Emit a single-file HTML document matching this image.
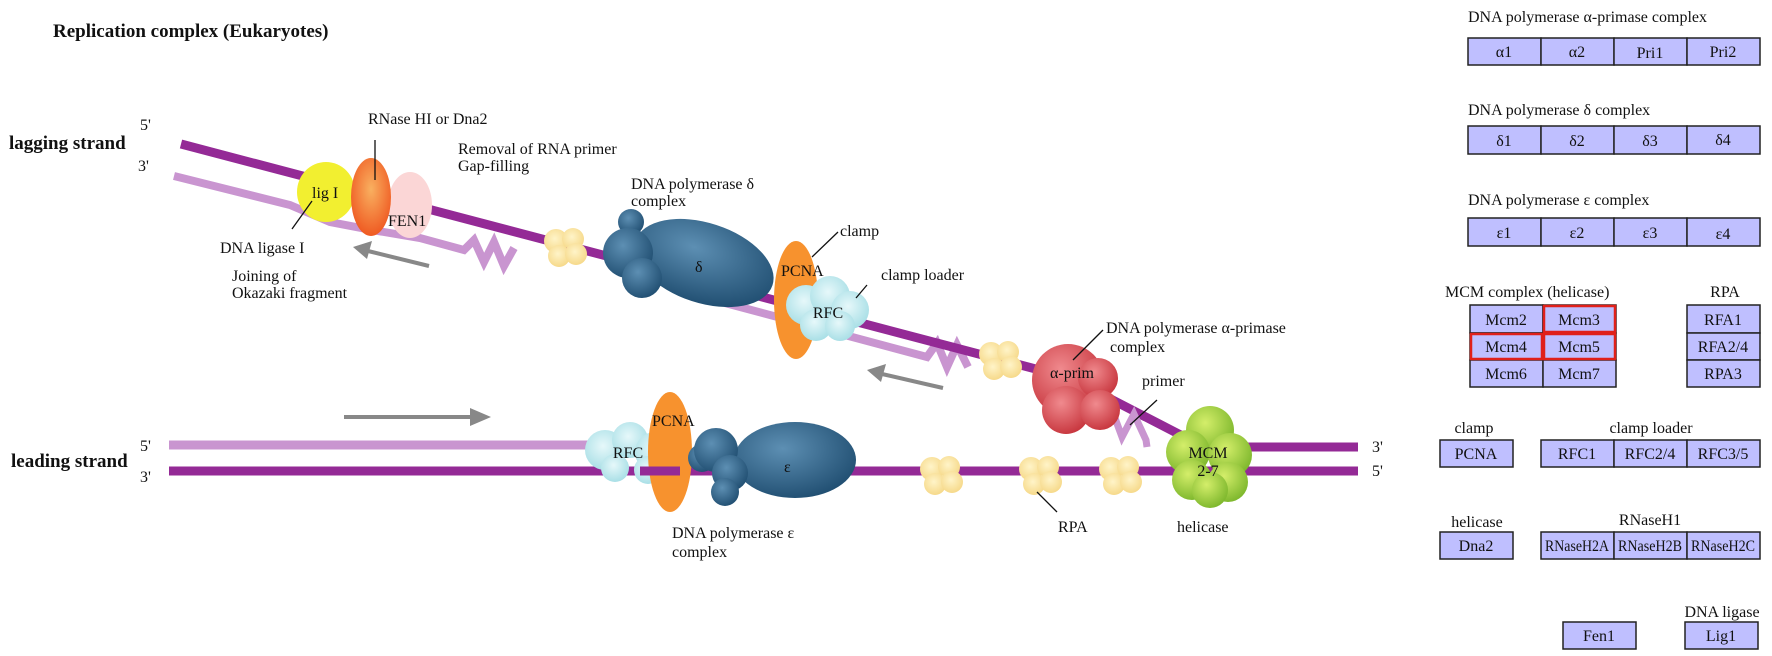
<!DOCTYPE html>
<html><head><meta charset="utf-8"><style>
html,body{margin:0;padding:0;background:#fff;}
svg{display:block;}
text{font-family:"Liberation Serif",serif;font-size:16px;fill:#111;}
.b{font-weight:bold;font-size:19px;}
.bx{fill:#bfbfff;stroke:#222;stroke-width:1.5;}
.c{text-anchor:middle;}
</style></head><body>
<svg width="1772" height="656" viewBox="0 0 1772 656" xmlns="http://www.w3.org/2000/svg">
<defs>
<radialGradient id="blue" cx="40%" cy="35%" r="70%"><stop offset="0" stop-color="#5d8fb3"/><stop offset="1" stop-color="#1f4d70"/></radialGradient>
<radialGradient id="red" cx="40%" cy="35%" r="70%"><stop offset="0" stop-color="#f08a8e"/><stop offset="1" stop-color="#c6333b"/></radialGradient>
<radialGradient id="grn" cx="40%" cy="35%" r="70%"><stop offset="0" stop-color="#d4ee6a"/><stop offset="1" stop-color="#7ab52a"/></radialGradient>
<radialGradient id="org" cx="50%" cy="40%" r="60%"><stop offset="0" stop-color="#f9b060"/><stop offset="1" stop-color="#ef5a22"/></radialGradient>
<radialGradient id="cyn" cx="45%" cy="40%" r="60%"><stop offset="0" stop-color="#e6f8fa"/><stop offset="1" stop-color="#a9dfe6"/></radialGradient>
<radialGradient id="ylw" cx="45%" cy="40%" r="60%"><stop offset="0" stop-color="#fff4c8"/><stop offset="1" stop-color="#f6d98a"/></radialGradient>
<g id="rpa"><circle cx="-9" cy="-6" r="12" fill="url(#ylw)"/><circle cx="8" cy="-8" r="11" fill="url(#ylw)"/><circle cx="-6" cy="9" r="11" fill="url(#ylw)"/><circle cx="11" cy="7" r="11" fill="url(#ylw)"/></g>
</defs>

<text class="b" x="53" y="37">Replication complex (Eukaryotes)</text>
<text class="b" x="9" y="149">lagging strand</text>
<text class="b" x="11" y="467">leading strand</text>
<text x="140" y="130">5'</text>
<text x="138" y="171">3'</text>
<text x="140" y="451">5'</text>
<text x="140" y="482">3'</text>
<text x="1372" y="452">3'</text>
<text x="1372" y="476">5'</text>

<polyline points="174,176 290,205 330,222 372,230 420,238 464,250 474,240 484,262 494,242 504,266 514,248" fill="none" stroke="#c995d0" stroke-width="8"/>
<polyline points="725,303 927,357 937,343 947,367 957,345 968,367" fill="none" stroke="#c995d0" stroke-width="8"/>
<line x1="181" y1="144" x2="1070" y2="378" stroke="#942a96" stroke-width="9"/>
<line x1="1070" y1="378" x2="1200" y2="445" stroke="#942a96" stroke-width="9"/>
<polyline points="1100,425 1112,410 1122,437 1134,414 1146,440 1147,447" fill="none" stroke="#c995d0" stroke-width="7"/>

<line x1="169" y1="445" x2="676" y2="445" stroke="#c995d0" stroke-width="9"/>
<line x1="169" y1="471" x2="1358" y2="471" stroke="#942a96" stroke-width="9"/>
<line x1="1230" y1="447" x2="1358" y2="447" stroke="#942a96" stroke-width="9"/>

<line x1="344" y1="417" x2="475" y2="417" stroke="#888" stroke-width="4"/>
<polygon points="470,408 491,417 470,426" fill="#888"/>
<line x1="429" y1="266" x2="368" y2="251" stroke="#888" stroke-width="4"/>
<polygon points="353,247 372,241 367,259" fill="#888"/>
<line x1="943" y1="388" x2="882" y2="374" stroke="#888" stroke-width="4"/>
<polygon points="867,370 886,364 881,382" fill="#888"/>

<ellipse cx="326" cy="192" rx="29" ry="30" fill="#f2ef30"/>
<ellipse cx="410" cy="205" rx="22" ry="33" fill="#fbd6d6"/>
<ellipse cx="371" cy="197" rx="20" ry="39" fill="url(#org)"/>
<text x="312" y="198">lig I</text>
<text x="388" y="226">FEN1</text>
<line x1="375" y1="140" x2="375" y2="180" stroke="#111" stroke-width="1.3"/>
<line x1="312" y1="201" x2="292" y2="229" stroke="#111" stroke-width="1.3"/>
<text x="368" y="124">RNase HI or Dna2</text>
<text x="458" y="154">Removal of RNA primer</text>
<text x="458" y="171">Gap-filling</text>
<text x="220" y="253">DNA ligase I</text>
<text x="232" y="281">Joining of</text>
<text x="232" y="298">Okazaki fragment</text>

<use href="#rpa" x="565" y="247"/>
<ellipse cx="704" cy="263" rx="72" ry="40" transform="rotate(18 704 263)" fill="url(#blue)"/>
<circle cx="631" cy="222" r="13" fill="url(#blue)"/>
<circle cx="628" cy="253" r="25" fill="url(#blue)"/>
<circle cx="642" cy="278" r="20" fill="url(#blue)"/>
<text x="695" y="272" fill="#111">δ</text>
<text x="631" y="189">DNA polymerase δ</text>
<text x="631" y="206">complex</text>

<ellipse cx="796" cy="300" rx="22" ry="59" fill="#f7922e"/>
<text x="781" y="276">PCNA</text>
<g fill="url(#cyn)"><circle cx="806" cy="305" r="20"/><circle cx="830" cy="296" r="20"/><circle cx="850" cy="310" r="19"/><circle cx="816" cy="325" r="16"/><circle cx="840" cy="326" r="15"/></g>
<text class="c" x="828" y="318">RFC</text>
<line x1="812" y1="257" x2="838" y2="232" stroke="#111" stroke-width="1.3"/>
<text x="840" y="236">clamp</text>
<line x1="856" y1="298" x2="867" y2="285" stroke="#111" stroke-width="1.3"/>
<text x="881" y="280">clamp loader</text>

<use href="#rpa" x="1000" y="360"/>
<g fill="url(#red)"><circle cx="1068" cy="380" r="36"/><circle cx="1098" cy="378" r="20"/><circle cx="1066" cy="410" r="24"/><circle cx="1100" cy="410" r="20"/></g>
<text class="c" x="1072" y="378">α-prim</text>
<line x1="1073" y1="360" x2="1103" y2="330" stroke="#111" stroke-width="1.3"/>
<text x="1106" y="333">DNA polymerase α-primase</text>
<text x="1110" y="352">complex</text>
<line x1="1130" y1="425" x2="1157" y2="400" stroke="#111" stroke-width="1.3"/>
<text x="1142" y="386">primer</text>

<g fill="url(#cyn)"><circle cx="605" cy="450" r="20"/><circle cx="630" cy="440" r="18"/><circle cx="655" cy="452" r="20"/><circle cx="615" cy="468" r="14"/><circle cx="648" cy="470" r="14"/></g>
<text class="c" x="628" y="458">RFC</text>
<ellipse cx="670" cy="452" rx="22" ry="60" fill="#f7922e"/>
<line x1="640" y1="471" x2="680" y2="471" stroke="#942a96" stroke-width="9"/>
<text x="652" y="426">PCNA</text>
<ellipse cx="795" cy="460" rx="61" ry="38" fill="url(#blue)"/>
<circle cx="702" cy="458" r="14" fill="url(#blue)"/>
<circle cx="716" cy="450" r="22" fill="url(#blue)"/>
<circle cx="730" cy="473" r="18" fill="url(#blue)"/>
<circle cx="725" cy="492" r="14" fill="url(#blue)"/>
<text x="784" y="472">ε</text>
<text x="672" y="538">DNA polymerase ε</text>
<text x="672" y="557">complex</text>

<use href="#rpa" x="941" y="475"/>
<use href="#rpa" x="1040" y="475"/>
<use href="#rpa" x="1120" y="475"/>
<line x1="1037" y1="492" x2="1057" y2="512" stroke="#111" stroke-width="1.3"/>
<text x="1058" y="532">RPA</text>

<g fill="url(#grn)"><circle cx="1210" cy="430" r="24"/><circle cx="1188" cy="452" r="22"/><circle cx="1230" cy="455" r="22"/><circle cx="1192" cy="480" r="20"/><circle cx="1228" cy="482" r="20"/><circle cx="1210" cy="490" r="18"/></g>
<text class="c" x="1208" y="458">MCM</text>
<text class="c" x="1208" y="476">2-7</text>
<text x="1177" y="532">helicase</text>

<text x="1468" y="22">DNA polymerase α-primase complex</text>
<g><rect class="bx" x="1468" y="38" width="73" height="27"/><rect class="bx" x="1541" y="38" width="73" height="27"/><rect class="bx" x="1614" y="38" width="73" height="27"/><rect class="bx" x="1687" y="38" width="73" height="27"/></g>
<text class="c" x="1504" y="57">α1</text><text class="c" x="1577" y="57">α2</text><text class="c" x="1650" y="58">Pri1</text><text class="c" x="1723" y="57">Pri2</text>

<text x="1468" y="115">DNA polymerase δ complex</text>
<g><rect class="bx" x="1468" y="126" width="73" height="28"/><rect class="bx" x="1541" y="126" width="73" height="28"/><rect class="bx" x="1614" y="126" width="73" height="28"/><rect class="bx" x="1687" y="126" width="73" height="28"/></g>
<text class="c" x="1504" y="146">δ1</text><text class="c" x="1577" y="146">δ2</text><text class="c" x="1650" y="146">δ3</text><text class="c" x="1723" y="145">δ4</text>

<text x="1468" y="205">DNA polymerase ε complex</text>
<g><rect class="bx" x="1468" y="218" width="73" height="28"/><rect class="bx" x="1541" y="218" width="73" height="28"/><rect class="bx" x="1614" y="218" width="73" height="28"/><rect class="bx" x="1687" y="218" width="73" height="28"/></g>
<text class="c" x="1504" y="238">ε1</text><text class="c" x="1577" y="238">ε2</text><text class="c" x="1650" y="238">ε3</text><text class="c" x="1723" y="239">ε4</text>

<text x="1445" y="297">MCM complex (helicase)</text>
<text class="c" x="1725" y="297">RPA</text>
<rect class="bx" x="1470" y="305" width="73" height="28"/><rect class="bx" x="1543" y="305" width="73" height="28"/>
<rect class="bx" x="1470" y="333" width="73" height="27"/><rect class="bx" x="1543" y="333" width="73" height="27"/>
<rect class="bx" x="1470" y="360" width="73" height="27"/><rect class="bx" x="1543" y="360" width="73" height="27"/>
<rect x="1544" y="306" width="71" height="26" fill="none" stroke="#e0201a" stroke-width="2.5"/>
<rect x="1471" y="334" width="71" height="25" fill="none" stroke="#e0201a" stroke-width="2.5"/>
<rect x="1544" y="334" width="71" height="25" fill="none" stroke="#e0201a" stroke-width="2.5"/>
<text class="c" x="1506" y="325">Mcm2</text><text class="c" x="1579" y="325">Mcm3</text>
<text class="c" x="1506" y="352">Mcm4</text><text class="c" x="1579" y="352">Mcm5</text>
<text class="c" x="1506" y="379">Mcm6</text><text class="c" x="1579" y="379">Mcm7</text>
<rect class="bx" x="1687" y="305" width="73" height="28"/><rect class="bx" x="1687" y="333" width="73" height="27"/><rect class="bx" x="1687" y="360" width="73" height="27"/>
<text class="c" x="1723" y="325">RFA1</text><text class="c" x="1723" y="352">RFA2/4</text><text class="c" x="1723" y="379">RPA3</text>

<text class="c" x="1474" y="433">clamp</text>
<text class="c" x="1651" y="433">clamp loader</text>
<rect class="bx" x="1440" y="440" width="73" height="27"/>
<text class="c" x="1476" y="459">PCNA</text>
<rect class="bx" x="1541" y="440" width="73" height="27"/><rect class="bx" x="1614" y="440" width="73" height="27"/><rect class="bx" x="1687" y="440" width="73" height="27"/>
<text class="c" x="1577" y="459">RFC1</text><text class="c" x="1650" y="459">RFC2/4</text><text class="c" x="1723" y="459">RFC3/5</text>

<text class="c" x="1477" y="527">helicase</text>
<text class="c" x="1650" y="525">RNaseH1</text>
<rect class="bx" x="1440" y="532" width="73" height="27"/>
<text class="c" x="1476" y="551">Dna2</text>
<rect class="bx" x="1541" y="532" width="73" height="27"/><rect class="bx" x="1614" y="532" width="73" height="27"/><rect class="bx" x="1687" y="532" width="73" height="27"/>
<text class="c" x="1577" y="551" textLength="64" lengthAdjust="spacingAndGlyphs">RNaseH2A</text>
<text class="c" x="1650" y="551" textLength="64" lengthAdjust="spacingAndGlyphs">RNaseH2B</text>
<text class="c" x="1723" y="551" textLength="64" lengthAdjust="spacingAndGlyphs">RNaseH2C</text>

<rect class="bx" x="1563" y="622" width="73" height="27"/>
<text class="c" x="1599" y="641">Fen1</text>
<text class="c" x="1722" y="617">DNA ligase</text>
<rect class="bx" x="1685" y="622" width="73" height="27"/>
<text class="c" x="1721" y="641">Lig1</text>
</svg>
</body></html>
